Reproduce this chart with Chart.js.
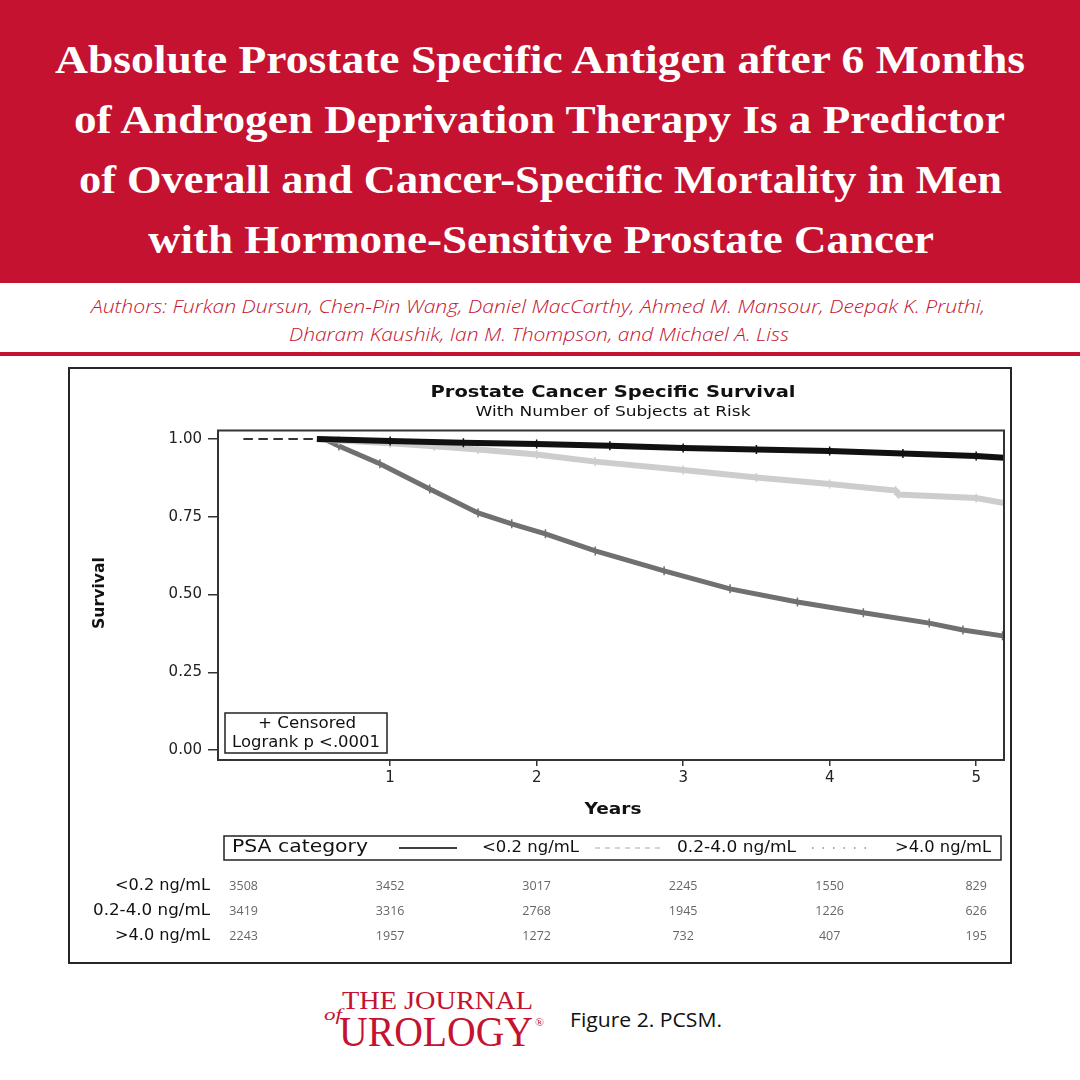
<!DOCTYPE html>
<html>
<head>
<meta charset="utf-8">
<script src="https://cdn.jsdelivr.net/npm/chart.js@4.4.1/dist/chart.umd.min.js"></script>
<style>
  html, body { margin: 0; padding: 0; background: #fff; }
  #page { position: relative; width: 1080px; height: 1080px; overflow: hidden; }
  #banner { position: absolute; left: 0; top: 0; width: 1080px; height: 283px; background: #c41230; }
  .fit { position: absolute; white-space: nowrap; transform-origin: 0 0; }
  .ttl { color: #fff; font-family: "Liberation Serif", serif; font-weight: bold; font-size: 40px; line-height: 40px; }
  .auth { color: #c41230; font-family: "Open Sans", sans-serif; font-style: italic; font-weight: 300; font-size: 19px; line-height: 19px; }
  #rule { position: absolute; left: 0; top: 352px; width: 1080px; height: 4px; background: #c41230; }
  #frame { position: absolute; left: 68px; top: 367px; width: 944px; height: 597px; box-sizing: border-box; border: 2px solid #262626; }
  #kmChart { position: absolute; left: 70px; top: 369px; }
  .logo { color: #c41230; font-family: "Liberation Serif", serif; }
  .fig { font-family: "Open Sans", sans-serif; font-size: 20px; line-height: 20px; color: #111; }
</style>
</head>
<body>
<div id="page">
  <div id="banner"></div>
  <div class="fit ttl" data-x="55" data-w="970" style="top:40px">Absolute Prostate Specific Antigen after 6 Months</div>
  <div class="fit ttl" data-x="74" data-w="931" style="top:100px">of Androgen Deprivation Therapy Is a Predictor</div>
  <div class="fit ttl" data-x="79" data-w="923" style="top:160px">of Overall and Cancer-Specific Mortality in Men</div>
  <div class="fit ttl" data-x="148" data-w="786" style="top:220px">with Hormone-Sensitive Prostate Cancer</div>

  <div class="fit auth" data-x="91" data-w="894" style="top:297px">Authors: Furkan Dursun, Chen-Pin Wang, Daniel MacCarthy, Ahmed M. Mansour, Deepak K. Pruthi,</div>
  <div class="fit auth" data-x="289" data-w="500" style="top:325px">Dharam Kaushik, Ian M. Thompson, and Michael A. Liss</div>
  <div id="rule"></div>

  <div id="frame"></div>
  <canvas id="kmChart" width="940" height="593"></canvas>

  <div class="fit logo" data-x="342" data-w="191" style="top:988px;font-size:25px;line-height:25px">THE JOURNAL</div>
  <div class="fit logo" data-x="324" data-w="18" style="top:1006px;font-size:17px;line-height:17px;font-style:italic">of</div>
  <div class="fit logo" data-x="339" data-w="194" style="top:1010px;font-size:43px;line-height:43px">UROLOGY</div>
  <div class="fit logo" data-x="535" data-w="9" style="top:1018px;font-size:10px;line-height:10px">®</div>
  <div class="fit fig" data-x="570" data-w="152" style="top:1010px">Figure 2. PCSM.</div>
</div>

<script>
// PSA groups and number at risk
const groups = ['<0.2 ng/mL', '0.2-4.0 ng/mL', '>4.0 ng/mL'];
const riskYears = [0, 1, 2, 3, 4, 5];
const riskLow = [3508, 3452, 3017, 2245, 1550, 829];
const riskMid = [3419, 3316, 2768, 1945, 1226, 626];
const riskHigh = [2243, 1957, 1272, 732, 407, 195];

// survival curves
const lowYears = [0, 0.5, 1.0, 1.5, 2.0, 2.5, 3.0, 3.5, 4.0, 4.5, 5.0, 5.19];
const lowSurv = [1, 1, 0.993, 0.988, 0.984, 0.978, 0.971, 0.966, 0.961, 0.953, 0.945, 0.939];
const midYears = [0, 0.5, 0.65, 1.0, 1.3, 1.6, 2.0, 2.4, 3.0, 3.5, 4.0, 4.45, 4.47, 5.0, 5.19];
const midSurv = [1, 1, 0.995, 0.986, 0.976, 0.966, 0.95, 0.927, 0.9, 0.876, 0.855, 0.834, 0.821, 0.81, 0.794];
const highYears = [0, 0.55, 0.65, 0.93, 1.27, 1.6, 1.83, 2.06, 2.4, 2.87, 3.32, 3.78, 4.23, 4.68, 4.91, 5.18];
const highSurv = [1, 1, 0.977, 0.92, 0.839, 0.762, 0.727, 0.695, 0.64, 0.576, 0.518, 0.476, 0.441, 0.408, 0.386, 0.367];

const xTicks = [1, 2, 3, 4, 5];
const yTicks = [0, 0.25, 0.5, 0.75, 1];

const SANS = '"DejaVu Sans", sans-serif';
const SMALL = '"Open Sans", sans-serif';

function pairs(xs, ys) {
  return xs.map((x, i) => ({ x: x, y: ys[i] }));
}

// squeeze the html texts to the widths in the original
document.querySelectorAll('.fit').forEach(el => {
  el.style.left = el.dataset.x + 'px';
  const w = el.getBoundingClientRect().width;
  el.style.transform = 'scaleX(' + (el.dataset.w / w) + ')';
});

// draw text squeezed/stretched to a given width
function fitText(c, text, x, y, w, align) {
  const m = c.measureText(text).width;
  const k = w / m;
  c.save();
  c.textAlign = 'left';
  let left = x;
  if (align === 'center') left = x - w / 2;
  if (align === 'right') left = x - w;
  c.translate(left, y);
  c.scale(k, 1);
  c.fillText(text, 0, 0);
  c.restore();
}

// box, titles, legend and risk table
const extras = {
  id: 'extras',
  afterDraw(chart) {
    const c = chart.ctx;
    const a = chart.chartArea;
    const xs = chart.scales.x;
    c.save();
    c.strokeStyle = '#333';
    c.lineWidth = 2;
    c.strokeRect(a.left, a.top, a.right - a.left, a.bottom - a.top);

    c.fillStyle = '#111';
    c.textBaseline = 'middle';
    c.font = 'bold 16px ' + SANS;
    fitText(c, 'Prostate Cancer Specific Survival', 543, 24, 365, 'center');
    c.font = '14px ' + SANS;
    fitText(c, 'With Number of Subjects at Risk', 543, 43, 275, 'center');

    c.font = 'bold 16px ' + SANS;
    fitText(c, 'Years', 543, 441, 57, 'center');
    c.save();
    c.translate(30, 224);
    c.rotate(-Math.PI / 2);
    fitText(c, 'Survival', 0, 0, 72, 'center');
    c.restore();

    // censored box
    c.fillStyle = '#fff';
    c.fillRect(155, 344, 162, 40);
    c.strokeStyle = '#222';
    c.lineWidth = 1.5;
    c.strokeRect(155, 344, 162, 40);
    c.fillStyle = '#111';
    c.font = '15px ' + SANS;
    fitText(c, '+ Censored', 237, 355, 98, 'center');
    fitText(c, 'Logrank p <.0001', 236, 374, 148, 'center');

    // legend
    c.strokeRect(154, 467, 777, 24);
    c.font = '17px ' + SANS;
    fitText(c, 'PSA category', 162, 479, 136, 'left');
    c.font = '15px ' + SANS;
    c.lineWidth = 1.5;
    c.strokeStyle = '#000';
    c.beginPath(); c.moveTo(329, 479); c.lineTo(387, 479); c.stroke();
    fitText(c, groups[0], 412, 479, 97, 'left');
    c.strokeStyle = '#c8c8c8';
    c.setLineDash([5, 5]);
    c.beginPath(); c.moveTo(525, 479); c.lineTo(593, 479); c.stroke();
    fitText(c, groups[1], 607, 479, 119, 'left');
    c.strokeStyle = '#8a8a8a';
    c.setLineDash([1.5, 9]);
    c.beginPath(); c.moveTo(742, 479); c.lineTo(805, 479); c.stroke();
    c.setLineDash([]);
    fitText(c, groups[2], 825, 479, 96, 'left');

    // number at risk
    const rows = [riskLow, riskMid, riskHigh];
    const rowY = [517, 542, 567];
    const labelW = [95, 117, 95];
    rows.forEach((row, r) => {
      c.fillStyle = '#111';
      c.font = '15px ' + SANS;
      fitText(c, groups[r], 140, rowY[r], labelW[r], 'right');
      c.textAlign = 'center';
      c.fillStyle = '#666';
      c.font = '12.5px ' + SMALL;
      row.forEach((n, i) => {
        c.fillText(String(n), xs.getPixelForValue(riskYears[i]), rowY[r]);
      });
    });
    c.restore();
  }
};

function curve(label, xs, ys, color, width) {
  return {
    label: label,
    data: pairs(xs, ys),
    borderColor: color,
    backgroundColor: color,
    borderWidth: width,
    tension: 0,
    pointStyle: 'cross',
    pointRadius: ctx => (ctx.raw && ctx.raw.x > 0.6 ? 4.5 : 0),
    pointBorderWidth: 1.5,
    pointBorderColor: color,
    segment: {
      borderDash: ctx => (ctx.p1.parsed.x <= 0.56 ? [9, 6] : undefined),
      borderWidth: ctx => (ctx.p1.parsed.x <= 0.56 ? 1.5 : width),
      borderColor: ctx => (ctx.p1.parsed.x <= 0.56 ? '#333' : color)
    }
  };
}

const ctx = document.getElementById('kmChart').getContext('2d');
const kmChart = new Chart(ctx, {
  type: 'line',
  data: {
    datasets: [
      curve(groups[0], lowYears, lowSurv, '#111111', 6),
      curve(groups[1], midYears, midSurv, '#cdcdcd', 6),
      curve(groups[2], highYears, highSurv, '#707070', 5)
    ]
  },
  options: {
    responsive: false,
    animation: false,
    layout: { padding: { left: 88, right: 2, top: 61.5, bottom: 172 } },
    plugins: { legend: { display: false }, tooltip: { enabled: false } },
    scales: {
      x: {
        type: 'linear',
        min: -0.175,
        max: 5.19,
        afterBuildTicks: s => { s.ticks = xTicks.map(v => ({ value: v })); },
        afterFit: s => { s.height = 30; },
        border: { display: false },
        grid: { drawOnChartArea: false, tickLength: 6, color: '#333', lineWidth: 1.5 },
        ticks: { font: { family: SANS, size: 15 }, color: '#222', padding: 3, maxRotation: 0 }
      },
      y: {
        min: -0.032,
        max: 1.027,
        afterBuildTicks: s => { s.ticks = yTicks.map(v => ({ value: v })); },
        afterFit: s => { s.width = 60; },
        border: { display: false },
        grid: { drawOnChartArea: false, tickLength: 10, color: '#333', lineWidth: 1.5 },
        ticks: { font: { family: SANS, size: 15 }, color: '#222', padding: 6, callback: v => v.toFixed(2) }
      }
    }
  },
  plugins: [extras]
});
</script>
</body>
</html>
